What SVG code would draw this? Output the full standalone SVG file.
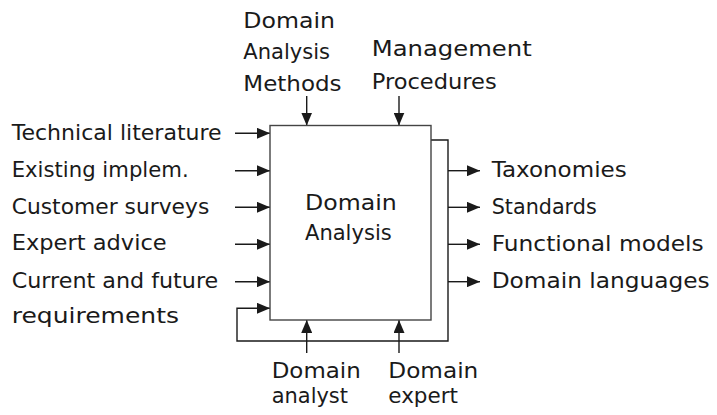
<svg xmlns="http://www.w3.org/2000/svg" width="717" height="415" viewBox="0 0 717 415">
<defs>
<style>
text{font-family:"DejaVu Sans","Liberation Sans",sans-serif;font-size:21px;fill:#1a1a1a}
.ln{fill:none;stroke:#1a1a1a;stroke-width:1.4}
.box{fill:#fff;stroke:#444;stroke-width:1.4}
</style>
<marker id="ah" markerUnits="userSpaceOnUse" markerWidth="13" markerHeight="11" refX="13" refY="5.5" orient="auto" viewBox="0 0 13 11">
<path d="M0,0 L13,5.5 L0,11 z" fill="#1a1a1a"/>
</marker>
</defs>
<rect width="717" height="415" fill="#fff"/>
<g id="connectors">
<path class="ln" d="M431,140 H448 V341 H237 V308.3 H270" marker-end="url(#ah)"/>
<path class="ln" d="M235,133.3 H270" marker-end="url(#ah)"/>
<path class="ln" d="M235,170.7 H270" marker-end="url(#ah)"/>
<path class="ln" d="M235,207.3 H270" marker-end="url(#ah)"/>
<path class="ln" d="M235,244.3 H270" marker-end="url(#ah)"/>
<path class="ln" d="M235,281.7 H270" marker-end="url(#ah)"/>
<path class="ln" d="M448,170.7 H480" marker-end="url(#ah)"/>
<path class="ln" d="M448,207.3 H480" marker-end="url(#ah)"/>
<path class="ln" d="M448,244.3 H480" marker-end="url(#ah)"/>
<path class="ln" d="M448,281.7 H480" marker-end="url(#ah)"/>
<path class="ln" d="M306.7,96 V125.5" marker-end="url(#ah)"/>
<path class="ln" d="M399,96 V125.5" marker-end="url(#ah)"/>
<path class="ln" d="M306.7,353 V320" marker-end="url(#ah)"/>
<path class="ln" d="M399,353 V320" marker-end="url(#ah)"/>
</g>
<g id="domain-analysis">
<rect class="box" x="270" y="125.5" width="161" height="194.5"/>
<text x="305" y="210" textLength="91.7" lengthAdjust="spacingAndGlyphs">Domain</text>
<text x="305" y="240" textLength="86.7" lengthAdjust="spacingAndGlyphs">Analysis</text>
</g>
<g id="inputs">
<text x="11.7" y="139.5" textLength="210" lengthAdjust="spacingAndGlyphs">Technical literature</text>
<text x="11.7" y="176.8" textLength="177" lengthAdjust="spacingAndGlyphs">Existing implem.</text>
<text x="11.7" y="213.5" textLength="197.6" lengthAdjust="spacingAndGlyphs">Customer surveys</text>
<text x="11.7" y="250.3" textLength="155" lengthAdjust="spacingAndGlyphs">Expert advice</text>
<text x="11.7" y="287.5" textLength="206.6" lengthAdjust="spacingAndGlyphs">Current and future</text>
<text x="11.7" y="322.5" textLength="167.3" lengthAdjust="spacingAndGlyphs">requirements</text>
</g>
<g id="outputs">
<text x="491.7" y="177" textLength="135" lengthAdjust="spacingAndGlyphs">Taxonomies</text>
<text x="491.7" y="213.5" textLength="105" lengthAdjust="spacingAndGlyphs">Standards</text>
<text x="491.7" y="250.5" textLength="212" lengthAdjust="spacingAndGlyphs">Functional models</text>
<text x="491.7" y="288" textLength="218" lengthAdjust="spacingAndGlyphs">Domain languages</text>
</g>
<g id="controls">
<text x="243.3" y="28.3" textLength="91.7" lengthAdjust="spacingAndGlyphs">Domain</text>
<text x="243.3" y="59.3" textLength="86.7" lengthAdjust="spacingAndGlyphs">Analysis</text>
<text x="243.3" y="90.5" textLength="98.3" lengthAdjust="spacingAndGlyphs">Methods</text>
<text x="371.7" y="55.5" textLength="160" lengthAdjust="spacingAndGlyphs">Management</text>
<text x="371.7" y="89" textLength="125" lengthAdjust="spacingAndGlyphs">Procedures</text>
</g>
<g id="mechanisms">
<text x="271.7" y="378.3" textLength="89" lengthAdjust="spacingAndGlyphs">Domain</text>
<text x="271.7" y="403" textLength="76.3" lengthAdjust="spacingAndGlyphs">analyst</text>
<text x="388.3" y="378.3" textLength="90" lengthAdjust="spacingAndGlyphs">Domain</text>
<text x="388.3" y="403" textLength="69.7" lengthAdjust="spacingAndGlyphs">expert</text>
</g>
</svg>
